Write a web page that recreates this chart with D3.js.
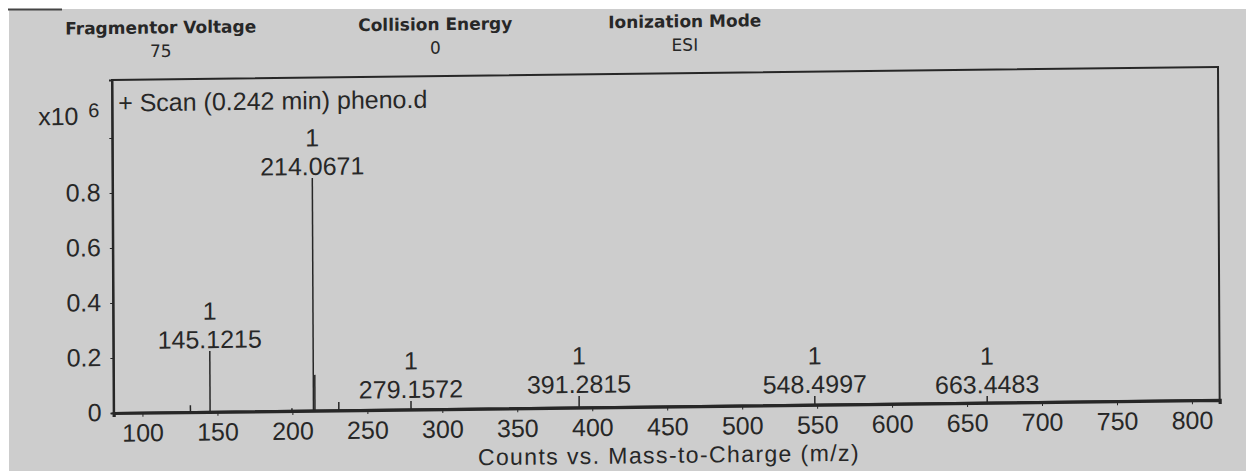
<!DOCTYPE html>
<html><head><meta charset="utf-8">
<script src="https://cdn.jsdelivr.net/npm/d3@7"></script>
<style>html,body{margin:0;padding:0;background:#fff;overflow:hidden}</style>
</head><body><svg id="c" width="1246" height="471"></svg>
<script>
// ---- data ----
const headerTitles = ["Fragmentor Voltage", "Collision Energy", "Ionization Mode"];
const headerValues = ["75", "0", "ESI"];
const scanTitle = "+ Scan (0.242 min) pheno.d";
const peakMz = [145.1215, 214.0671, 279.1572, 391.2815, 548.4997, 663.4483];
const peakIntensity = [0.221, 0.846, 0.031, 0.042, 0.032, 0.024]; // x10^6 counts
const peakCharge = [1, 1, 1, 1, 1, 1];
const minorMz = [132.0, 199.7, 215.07, 231.0];
const minorIntensity = [0.025, 0.010, 0.13, 0.03];
const xTicks = [100, 150, 200, 250, 300, 350, 400, 450, 500, 550, 600, 650, 700, 750, 800];
const yTicks = [0, 0.2, 0.4, 0.6, 0.8, 1.0];
const yTickLabels = ["0", "0.2", "0.4", "0.6", "0.8", ""];
const xTitle = "Counts vs. Mass-to-Charge (m/z)";
const yExpBase = "x10", yExpPow = "6";

// ---- layout ----
const W = 1246, H = 471;
const L = 112, R = 1218, T = 80, B = 413;
const ink = "#272727", bg = "#cdcdcd";
const sans = "'Liberation Sans', Arial, sans-serif";

const svg = d3.select("#c");
svg.append("rect").attr("x", 9).attr("y", 9).attr("width", W - 9).attr("height", H - 9).attr("fill", bg);
svg.append("line").attr("x1", 8).attr("x2", 62).attr("y1", 9.5).attr("y2", 9.5)
  .attr("stroke", "#444").attr("stroke-width", 2);

// slight tilt of the scanned page
const g = svg.append("g").attr("transform", "matrix(1,-0.0118,0.005,1,-0.4,1.32)");

const x = d3.scaleLinear().domain([80.8, 818.5]).range([L, R]);
const y = d3.scaleLinear().domain([0, 1.211]).range([B, T]);

// header
const hx = [161, 435.5, 685];
g.selectAll("text.ht").data(headerTitles).join("text").attr("class", "ht")
  .attr("x", (d, i) => hx[i]).attr("y", 34).attr("text-anchor", "middle")
  .attr("font-family", "'DejaVu Sans'").attr("font-weight", "bold").attr("font-size", 17)
  .attr("fill", ink).text(d => d);
g.selectAll("text.hv").data(headerValues).join("text").attr("class", "hv")
  .attr("x", (d, i) => hx[i]).attr("y", 57.5).attr("text-anchor", "middle")
  .attr("font-family", "'DejaVu Sans'").attr("font-size", 17)
  .attr("fill", ink).text(d => d);

// frame
g.append("rect").attr("x", L).attr("y", T).attr("width", R - L).attr("height", B - T)
  .attr("fill", "none").attr("stroke", ink).attr("stroke-width", 2);

// peaks
const allMz = minorMz.concat(peakMz), allI = minorIntensity.concat(peakIntensity);
g.selectAll("line.pk").data(allMz).join("line").attr("class", "pk")
  .attr("x1", d => x(d)).attr("x2", d => x(d))
  .attr("y1", y(0)).attr("y2", (d, i) => y(allI[i]))
  .attr("stroke", ink).attr("stroke-width", 1.5);

// bottom axis
const xa = g.append("g").attr("transform", `translate(0,${B})`)
  .call(d3.axisBottom(x).tickValues(xTicks).tickSize(4).tickPadding(7).tickFormat(d3.format("d")));
xa.select(".domain").attr("stroke", ink).attr("stroke-width", 3.2);
xa.selectAll(".tick line").attr("stroke", ink).attr("stroke-width", 1);
xa.selectAll(".tick text").attr("fill", ink).attr("font-family", sans).attr("font-size", 25);

// left axis
const ya = g.append("g").attr("transform", `translate(${L},0)`)
  .call(d3.axisLeft(y).tickValues(yTicks).tickSize(3).tickPadding(9)
    .tickFormat((d, i) => yTickLabels[i]));
ya.select(".domain").attr("stroke", ink).attr("stroke-width", 2);
ya.selectAll(".tick line").attr("stroke", ink).attr("stroke-width", 1);
ya.selectAll(".tick text").attr("fill", ink).attr("font-family", sans).attr("font-size", 25)
  .attr("dy", "0.3em");

// exponent
g.append("text").attr("x", 38).attr("y", 124.5).attr("font-family", sans).attr("font-size", 25)
  .attr("fill", ink).text(yExpBase);
g.append("text").attr("x", 88).attr("y", 117).attr("font-family", sans).attr("font-size", 20)
  .attr("fill", ink).text(yExpPow);

// scan title
g.append("text").attr("x", 118).attr("y", 111.5).attr("font-family", sans).attr("font-size", 25)
  .attr("fill", ink).text(scanTitle);

// peak labels
const lab = g.selectAll("g.lab").data(peakMz).join("g").attr("class", "lab")
  .attr("transform", (d, i) => `translate(${x(d)},${y(peakIntensity[i]) - 3})`);
lab.append("text").attr("text-anchor", "middle").attr("font-family", sans).attr("font-size", 25)
  .attr("fill", ink).text(d => d.toFixed(4));
lab.append("text").attr("y", -28.5).attr("text-anchor", "middle").attr("font-family", sans)
  .attr("font-size", 25).attr("fill", ink).text((d, i) => peakCharge[i]);

// x title
g.append("text").attr("x", 667).attr("y", 469.5).attr("text-anchor", "middle")
  .attr("font-family", sans).attr("font-size", 23).attr("letter-spacing", 1.4)
  .attr("fill", ink).text(xTitle);
</script></body></html>
